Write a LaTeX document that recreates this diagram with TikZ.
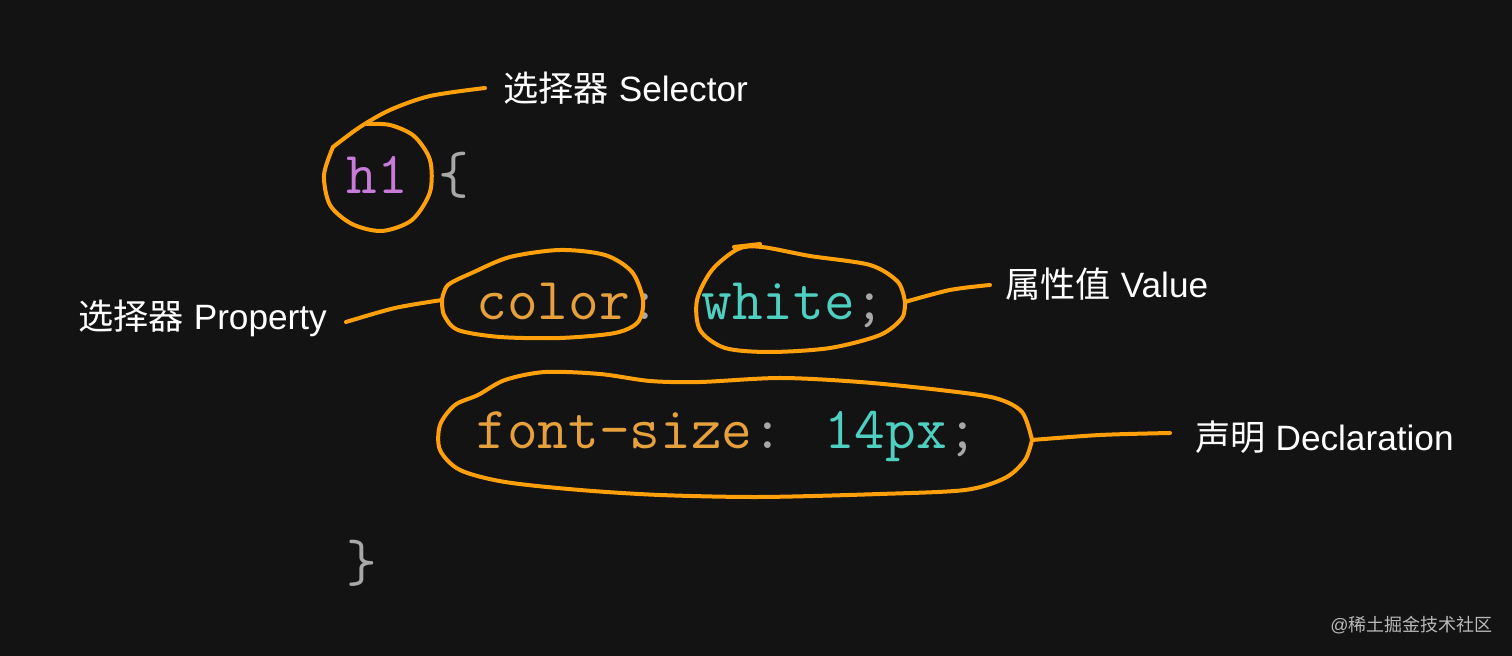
\documentclass[tikz,border=0pt]{standalone}
\usepackage{fontspec}
\setmainfont{Liberation Sans}
\newfontfamily\cjk{Noto Sans CJK SC}
\definecolor{bg}{HTML}{131313}
\definecolor{pen}{HTML}{FFA00A}
\definecolor{tag}{HTML}{C97BD9}
\definecolor{prop}{HTML}{E6A03C}
\definecolor{val}{HTML}{4ECFC0}
\definecolor{punct}{HTML}{A8A8A8}
\begin{document}
\begin{tikzpicture}[x=0.5pt,y=-0.5pt,
    code/.style={anchor=base west,inner sep=0,font=\ttfamily\fontsize{29.8}{30}\selectfont},
    lbl/.style={anchor=west,inner sep=0,text=white,font=\fontsize{17.6}{20}\selectfont},
    pen/.style={draw=pen,line width=2pt,line cap=round,line join=round}]
    \fill[bg] (0,0) rectangle (1512,656);
    % code lines
    \node[code] at (346,194)(sel){\textcolor{tag}{h1} \textcolor{punct}{\{}};
    \node[code] at (476,320)(decl){\textcolor{prop}{color}\textcolor{punct}{:} \textcolor{val}{white}\textcolor{punct}{;}};
    \node[code] at (476,449)(fs){\textcolor{prop}{font-size}\textcolor{punct}{:} \textcolor{val}{14px}\textcolor{punct}{;}};
    \node[code] at (346,582)(close){\textcolor{punct}{\}}};
    % labels
    \node[lbl] at (503,88)(selLbl){{\cjk 选择器} Selector};
    \node[lbl] at (78,318)(propLbl){{\cjk 选择器} Property};
    \node[lbl] at (1005,284)(valLbl){{\cjk 属性值} Value};
    \node[lbl] at (1195,437)(declLbl){{\cjk 声明} Declaration};
    \node[anchor=west,inner sep=0,text=punct!80,font=\fontsize{9}{10}\selectfont] at (1330,625)(mark){@{\cjk 稀土掘金技术社区}};
    % selector
    \draw[pen] plot[smooth] coordinates {(485,88) (430,96) (390,110) (360,127) (333,147)};
    \draw[pen] plot[smooth] coordinates {(333,147) (324,175) (330,205) (352,224) (382,231) (412,220) (430,192) (430,160) (414,136) (390,125) (367,124)};
    % property
    \draw[pen] plot[smooth] coordinates {(346,322) (395,308) (442,300)};
    \draw[pen] plot[smooth] coordinates {(442,300) (448,285) (474,272) (510,257) (560,250) (605,255) (632,272) (643,300) (638,322) (615,333) (560,338) (500,337) (458,330) (444,315) (442,300)};
    % value
    \draw[pen] plot[smooth] coordinates {(990,285) (950,290) (905,302)};
    \draw[pen] plot[smooth] coordinates {(905,302) (898,282) (870,265) (810,256) (762,247) (738,249) (712,270) (697,300) (700,330) (725,348) (770,352) (830,348) (880,335) (902,318) (905,302)};
    \draw[pen] (734,247) -- (760,244);
    % declaration
    \draw[pen] plot[smooth] coordinates {(1170,433) (1100,435) (1032,440)};
    \draw[pen] plot[smooth] coordinates {(1032,440) (1022,412) (995,398) (940,390) (860,382) (780,378) (700,382) (650,381) (600,374) (545,372) (505,380) (478,395) (455,405) (440,425) (440,450) (460,470) (505,482) (580,490) (660,495) (760,497) (880,494) (965,490) (1005,478) (1025,460) (1032,440)};
\end{tikzpicture}
\end{document}
